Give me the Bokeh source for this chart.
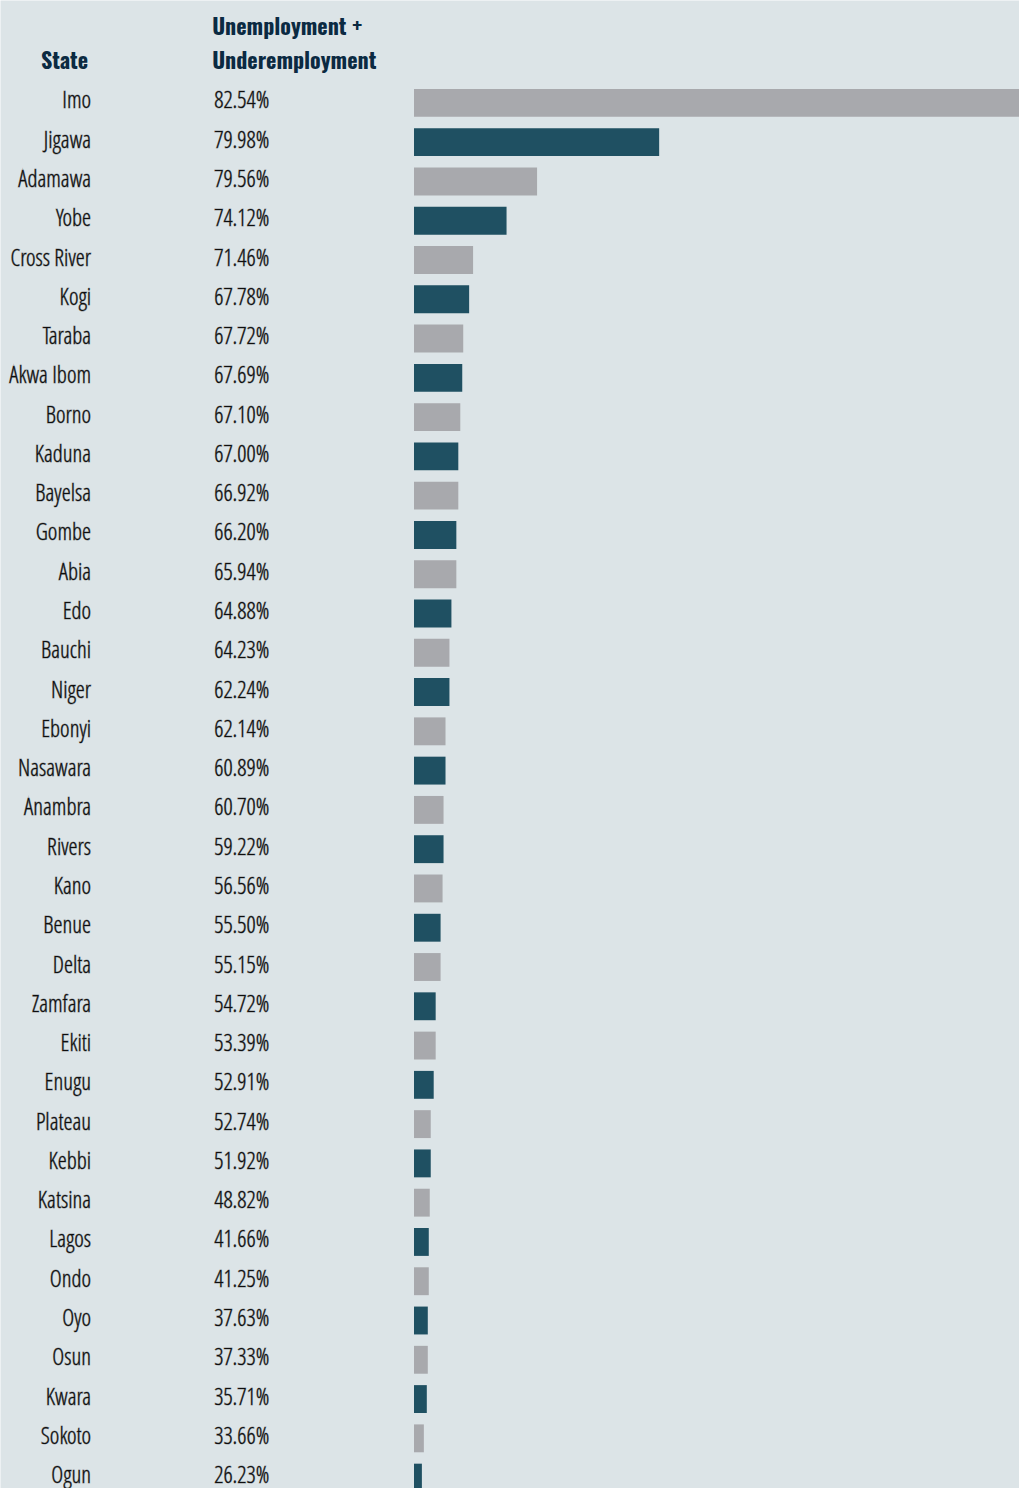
from bokeh.plotting import figure
from bokeh.models import Range1d, ColumnDataSource
from bokeh.core.properties import value
from bokeh.embed import file_html
from bokeh.resources import INLINE

states = ["Imo", "Jigawa", "Adamawa", "Yobe", "Cross River", "Kogi", "Taraba", "Akwa Ibom",
          "Borno", "Kaduna", "Bayelsa", "Gombe", "Abia", "Edo", "Bauchi", "Niger", "Ebonyi",
          "Nasawara", "Anambra", "Rivers", "Kano", "Benue", "Delta", "Zamfara", "Ekiti",
          "Enugu", "Plateau", "Kebbi", "Katsina", "Lagos", "Ondo", "Oyo", "Osun", "Kwara",
          "Sokoto", "Ogun"]
rates = [82.54, 79.98, 79.56, 74.12, 71.46, 67.78, 67.72, 67.69, 67.10, 67.00, 66.92, 66.20,
         65.94, 64.88, 64.23, 62.24, 62.14, 60.89, 60.70, 59.22, 56.56, 55.50, 55.15, 54.72,
         53.39, 52.91, 52.74, 51.92, 48.82, 41.66, 41.25, 37.63, 37.33, 35.71, 33.66, 26.23]
# bar lengths (relative units)
bar_values = [640, 249, 125, 94, 60, 56, 50, 49, 47, 45, 45, 43, 43, 38, 36, 36, 32, 32,
              30, 30, 29, 27, 27, 22, 22, 20, 17, 17, 16, 15, 15, 14, 14, 13, 10, 8]
headers = ["State", "Unemployment +", "Underemployment"]

BG = "#dce4e7"
GRAY = "#a8a9ad"
TEAL = "#1f5062"
NAVY = "#0b2a42"
INK = "#0e0e0e"
INK_HALO = "rgba(14,14,14,0.4)"
LABEL_FONT = "Open Sans Condensed Light"
HEAD_FONT = "Oswald"

rows = list(range(len(states)))
colors = [GRAY if i % 2 == 0 else TEAL for i in rows]
src = ColumnDataSource(dict(
    row=rows, state=states, bar=bar_values, color=colors,
    pct=[f"{r:.2f}%" for r in rates],
    zero=[0] * len(rows),
))

W, H = 1019, 1488
p = figure(width=W, height=H, output_backend="svg", toolbar_location=None,
           x_range=Range1d(-420, 615), y_range=Range1d(35.277, -2.607),
           min_border=0, background_fill_color=BG, border_fill_color=BG,
           outline_line_color=None, x_axis_type=None, y_axis_type=None)
p.xgrid.visible = False
p.ygrid.visible = False

p.hbar(y="row", left="zero", right="bar", height=0.71, color="color", line_color=None, source=src)

label_style = dict(text_align="right", text_baseline="alphabetic", y_offset=-3.5,
                   text_font=value(LABEL_FONT), text_font_size="23px", text_color=INK,
                   text_outline_color=INK_HALO)
p.text(x=-328, y="row", text="state", source=src, **label_style)
p.text(x=-147, y="row", text="pct", source=src, **label_style)

hdr = ColumnDataSource(dict(x=[-331, -205, -205], y=[-0.845, -1.703, -0.845],
                            t=headers, a=["right", "left", "left"]))
p.text(x="x", y="y", text="t", text_align="a", source=hdr, text_baseline="alphabetic",
       y_offset=-11, text_font=value(HEAD_FONT), text_font_style="bold", text_font_size="22px",
       text_color=NAVY)

open("out.html", "w").write(file_html(p, INLINE))
